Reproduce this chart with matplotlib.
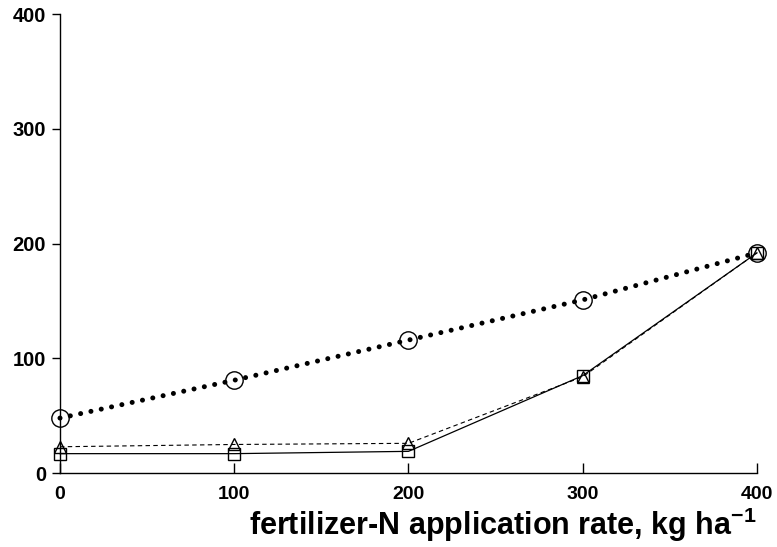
import matplotlib
matplotlib.use("Agg")
import matplotlib.pyplot as plt

x = [0, 100, 200, 300, 400]
circle_vals = [48, 81, 116, 151, 192]
triangle_vals = [23, 25, 26, 84, 192]
square_vals = [17, 17, 19, 85, 192]
xticks = [0, 100, 200, 300, 400]
yticks = [0, 100, 200, 300, 400]
xlabel = "fertilizer-N application rate, kg ha$^{-1}$"

plt.rcParams['font.family'] = ['Liberation Sans', 'DejaVu Sans']
plt.rcParams['font.weight'] = 'bold'
plt.rcParams['mathtext.fontset'] = 'custom'
plt.rcParams['mathtext.rm'] = 'Liberation Sans:bold'
plt.rcParams['mathtext.it'] = 'Liberation Sans:bold'
plt.rcParams['mathtext.bf'] = 'Liberation Sans:bold'
plt.rcParams['mathtext.default'] = 'bf'

fig = plt.figure(figsize=(7.77, 5.47), dpi=100)
ax = fig.add_axes([0.0772, 0.135, 0.897, 0.839])

ax.plot(x, square_vals, color='black', lw=0.9, marker='s', ms=8,
        mfc='none', mec='black', mew=1.0, zorder=3, clip_on=False)
ax.plot(x, triangle_vals, color='black', lw=0.8, ls=(0, (4, 3)), marker='^', ms=8,
        mfc='none', mec='black', mew=1.0, zorder=3, clip_on=False)
ax.plot(x, circle_vals, color='black', lw=3.6, ls=(0, (0.01, 2.1)),
        dash_capstyle='round', zorder=2, clip_on=False)
ax.plot(x, circle_vals, ls='none', marker='o', ms=12.5, mfc='none', mec='black',
        mew=1.0, zorder=4, clip_on=False)

ax.set_xlim(0, 400)
ax.set_ylim(0, 400)
for s in ['top', 'right']:
    ax.spines[s].set_visible(False)
for s in ['left', 'bottom']:
    ax.spines[s].set_linewidth(1.0)
ax.set_xticks(xticks)
ax.set_yticks(yticks)
ax.set_xticklabels([str(v) for v in xticks], fontsize=14, fontweight='bold')
ax.set_yticklabels([str(v) for v in yticks], fontsize=14.5, fontweight='bold')
ax.tick_params(axis='x', direction='in', length=7, width=1, pad=9)
ax.tick_params(axis='y', direction='out', length=6, width=1, pad=4)
ax.set_xlabel(xlabel, fontsize=22, fontweight='bold', loc='right', labelpad=2)

fig.savefig("out.png", dpi=100)
